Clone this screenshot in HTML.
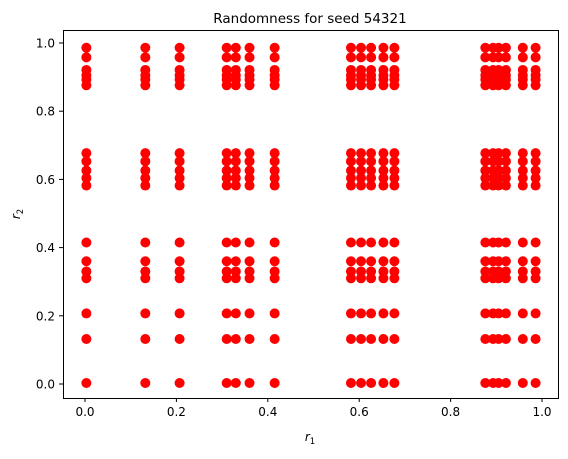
<!DOCTYPE html>
<html><head><meta charset="utf-8"><style>
body{margin:0;background:#fff;}
svg text{font-family:"DejaVu Sans","Liberation Sans",sans-serif;fill:#000;}
</style></head><body>
<svg id="chart" width="568" height="454">
<rect x="0" y="0" width="568" height="454" fill="#fff"/>
<text x="310" y="23" font-size="13.5" text-anchor="middle">Randomness for seed 54321</text>
<g id="marks"></g>
<rect x="63.5" y="30.5" width="495" height="368" fill="none" stroke="#000" stroke-width="1"/>
<g id="xt"></g>
<g id="yt"></g>
<text x="310" y="441" font-size="12" font-style="italic" text-anchor="middle">r<tspan font-size="8.5" dy="3" font-style="normal">1</tspan></text>
<text transform="translate(20,214) rotate(-90)" font-size="12" font-style="italic" text-anchor="middle">r<tspan font-size="8.5" dy="3" font-style="normal">2</tspan></text>
</svg>
<script>
const xValues=[0.003,0.132,0.207,0.31,0.33,0.36,0.415,0.582,0.604,0.626,0.653,0.677,0.876,0.893,0.905,0.921,0.958,0.986];
const yValues=[0.003,0.132,0.207,0.31,0.33,0.36,0.415,0.582,0.604,0.626,0.653,0.677,0.876,0.893,0.905,0.921,0.958,0.986];
const xTicks=[0,0.2,0.4,0.6,0.8,1.0];
const yTicks=[0,0.2,0.4,0.6,0.8,1.0];
const tickLabels=["0.0","0.2","0.4","0.6","0.8","1.0"];
const NS="http://www.w3.org/2000/svg";
function sx(v){return 85+v*457;}
function sy(v){return 384-v*341;}
const marks=document.getElementById('marks');
xValues.forEach(xv=>{yValues.forEach(yv=>{
 const c=document.createElementNS(NS,'circle');
 c.setAttribute('cx',sx(xv));c.setAttribute('cy',sy(yv));c.setAttribute('r',5);c.setAttribute('fill','#ff0000');
 
 
 marks.appendChild(c);
});});
const xt=document.getElementById('xt');
xTicks.forEach((t,i)=>{
 const l=document.createElementNS(NS,'line');
 l.setAttribute('x1',sx(t));l.setAttribute('x2',sx(t));l.setAttribute('y1',398);l.setAttribute('y2',402);l.setAttribute('stroke','#000');
 
 
 xt.appendChild(l);
 const tx=document.createElementNS(NS,'text');
 tx.setAttribute('x',sx(t));tx.setAttribute('y',416);tx.setAttribute('font-size','12');tx.setAttribute('text-anchor','middle');
 tx.textContent=tickLabels[i];
 
 
 xt.appendChild(tx);
});
const yt=document.getElementById('yt');
yTicks.forEach((t,i)=>{
 const l=document.createElementNS(NS,'line');
 l.setAttribute('x1',59);l.setAttribute('x2',63);l.setAttribute('y1',sy(t));l.setAttribute('y2',sy(t));l.setAttribute('stroke','#000');
 
 
 yt.appendChild(l);
 const tx=document.createElementNS(NS,'text');
 tx.setAttribute('x',55);tx.setAttribute('y',sy(t)+4.5);tx.setAttribute('font-size','12');tx.setAttribute('text-anchor','end');
 tx.textContent=tickLabels[i];
 
 
 yt.appendChild(tx);
});
</script>
</body></html>
